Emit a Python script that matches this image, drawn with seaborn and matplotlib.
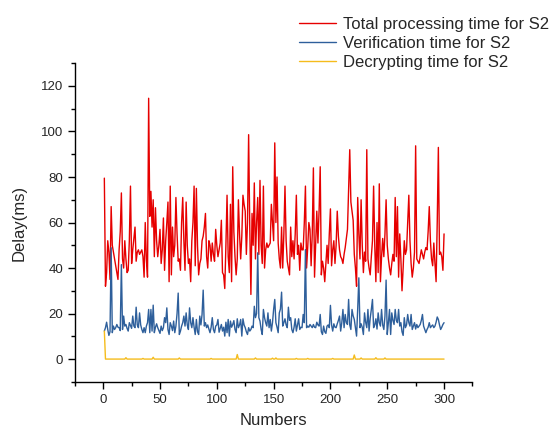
import seaborn as sns
import matplotlib.pyplot as plt
import pandas as pd
from matplotlib.ticker import MultipleLocator

# Delay values (ms), samples 1..300
total_time = [
    79.5, 32, 38, 52, 47, 35, 67, 50, 47, 44, 41, 38, 35, 48, 56, 73, 44, 40, 52, 44,
    38, 39, 52, 76, 42, 48, 53, 58, 43, 47, 48, 46, 47, 48, 45, 36, 60, 44, 36, 114.6,
    62.7, 73.7, 58, 70, 45, 66.5, 52, 45, 50, 57, 42, 48, 62, 39, 52, 60, 69, 34, 76, 37,
    58, 45, 50, 71, 55, 43, 44, 39, 60, 71, 52, 39, 69, 50, 42, 44, 34, 52, 60, 76,
    41, 75, 50, 37, 42, 44, 52, 54, 58, 64, 45, 40, 52, 50, 43, 51, 46, 43, 57, 50,
    45, 48, 51, 61, 38, 37, 31, 50, 72, 45, 38, 68, 34, 84.5, 56, 45, 37, 44, 70, 55,
    44, 54, 72, 68, 65, 46, 60, 98.6, 58, 28.4, 64, 50, 77.4, 44, 60, 71, 46, 78.5, 50, 42,
    76, 40, 48, 51, 49, 50, 51, 68, 60, 52, 95, 60, 80, 51, 44, 40, 58, 40, 55, 76,
    52, 43, 40, 37, 58, 45, 52, 44, 55, 72, 46, 50, 39, 51, 48, 48, 60, 76, 40, 49,
    60, 57, 41, 55, 84, 36, 50, 65, 51, 65, 84.5, 37, 43, 40, 34, 42, 50, 42, 55, 66,
    41, 48, 52, 42, 50, 65, 54, 48, 45, 44, 42, 46, 49, 53, 57, 75, 92, 69, 65, 61,
    46, 40, 32, 71, 55, 44, 70, 50, 38, 47, 43, 92, 44, 40, 37, 45, 52, 76, 50, 34,
    60, 38, 77, 34, 45, 53, 45, 55, 70, 50, 44, 40, 37, 42, 46, 43, 71, 45, 67, 36,
    55, 44, 30, 40, 52, 46, 48, 60, 72, 52, 42, 36, 40, 47, 93.7, 44, 43, 42, 45, 48,
    46, 44, 47, 49, 48, 56, 67, 52, 44, 41, 51, 42, 34, 60, 93, 46, 47, 45, 39, 55,
]

verify_time = [
    12.3, 13.8, 16.2, 13, 10.4, 12, 48.9, 11.6, 14.5, 13, 13.8, 15.2, 14, 13.8, 12.5, 41.5, 13, 18.9, 14.5, 15.2,
    13.5, 12.3, 16, 14.8, 13.5, 18.9, 14.5, 13.8, 22.8, 15, 13.8, 20.3, 15, 13, 11.6, 13.8, 11.6, 14.5, 16, 21.8,
    11.6, 21.8, 12.3, 23.7, 11.6, 14, 15.5, 13.8, 12.5, 11.3, 14.5, 12.5, 13.8, 18.2, 16, 22.5, 13, 10.8, 16, 14.5,
    12.5, 16.7, 11.6, 14.5, 20, 29, 10.8, 12.3, 14.5, 16, 18.9, 14.5, 20.3, 15, 13, 22.5, 16, 13.8, 18.2, 14,
    10.8, 17.4, 12, 10.8, 18.9, 15, 19.6, 30.3, 14.5, 16, 13.8, 15, 13.2, 11.6, 14, 18.2, 13, 11.6, 14.5, 15,
    17.4, 11.8, 13.5, 15.2, 12.3, 14, 10.1, 16.2, 11.6, 17.4, 10.1, 16.7, 14, 15.2, 16.9, 13, 11.6, 17.7, 13.8, 15,
    17.4, 10.1, 17.7, 15, 13.8, 12, 10.8, 13.8, 12.3, 13, 14.5, 13.8, 23.2, 18.2, 20, 46.7, 18.2, 16.7, 13, 10.8,
    21.8, 18.2, 16, 14.5, 20.3, 13.8, 17.4, 12.3, 16, 21.8, 26.2, 16, 14, 11.6, 20.3, 22, 29.4, 14.5, 16, 17.7,
    15, 13.8, 22.8, 17, 18.2, 13, 11.6, 14, 17.7, 12.3, 15, 17.7, 13, 14, 13.8, 19.6, 16, 48.1, 13.8, 14.5,
    14, 15.2, 14.5, 13.8, 15.2, 14, 13.8, 16.2, 15, 14.5, 19.6, 12, 10.8, 14.5, 12, 11.3, 14.5, 15, 13.8, 23.6,
    15, 12.3, 15.5, 14, 13.8, 15.5, 17, 18.9, 12.3, 16, 21.8, 13.8, 19.6, 16, 15.2, 26.2, 15, 13, 21.8, 19,
    17.4, 13.8, 10.1, 22, 35.7, 13.8, 15.5, 14, 10.8, 20.3, 16.2, 13.8, 21.8, 12.3, 18, 21.8, 26.2, 13.8, 15, 17.7,
    13.2, 20.3, 16, 14.5, 21.8, 15, 13, 18.9, 34.7, 10.8, 16, 21.8, 10.8, 20.3, 17, 15.2, 21.8, 17, 16, 21.8,
    14.5, 16, 12, 10.4, 18.2, 13.8, 15, 19.6, 16, 14.5, 19.6, 13, 14.5, 16, 13.2, 15.2, 13.8, 14.5, 15.2, 17,
    19.6, 14.5, 13, 11.6, 13, 14, 16, 13.8, 14.5, 15, 13.8, 14.5, 16.2, 18.5, 17.4, 15, 13, 14, 15.2, 16,
]

decrypt_time = [
    12.3, 0, 0, 0, 0, 0, 0, 0, 0, 0, 0, 0, 0, 0, 0, 0, 0, 0, 0, 0.6,
    0, 0, 0, 0, 0, 0, 0, 0, 0, 0, 0, 0, 0, 0, 0.3, 0, 0, 0, 0, 0,
    0, 0, 0, 0.8, 0, 0, 0, 0, 0, 0, 0, 0, 0, 0, 0, 0, 0, 0, 0, 0,
    0, 0, 0, 0, 0, 0, 0.5, 0, 0, 0, 0, 0, 0, 0, 0, 0, 0, 0, 0, 0,
    0, 0, 0, 0, 0, 0, 0, 0, 0, 0, 0, 0, 0, 0, 0.3, 0, 0, 0, 0, 0,
    0, 0, 0, 0, 0, 0, 0, 0, 0, 0, 0, 0, 0, 0, 0, 0, 0, 2.0, 0, 0,
    0, 0, 0, 0, 0, 0, 0, 0, 0, 0, 0, 0, 0, 0.5, 0, 0, 0, 0, 0, 0,
    0, 0, 0, 0, 0, 0, 0, 0, 0.4, 0, 0, 0.5, 0, 0, 0, 0, 0, 0, 0, 0,
    0, 0, 0, 0, 0, 0, 0, 0, 0, 0.3, 0, 0, 0, 0, 0, 0, 0, 0, 0, 0.3,
    0, 0, 0, 0, 0, 0, 0, 0, 0, 0, 0, 0, 0, 0, 0, 0, 0, 0, 0, 0,
    0, 0.3, 0, 0, 0, 0, 0, 0, 0, 0, 0, 0, 0, 0, 0, 0, 0, 0, 0, 0,
    1.8, 0, 0, 0, 0, 0, 0.5, 0, 0, 0, 0, 0, 0, 0, 0, 0, 0, 0, 0, 0.6,
    0, 0, 0, 0, 0, 0, 0, 0.5, 0, 0, 0, 0, 0, 0, 0, 0, 0, 0, 0, 0,
    0, 0, 0, 0, 0, 0, 0, 0, 0, 0, 0, 0, 0, 0, 0, 0, 0, 0, 0, 0,
    0, 0, 0, 0, 0, 0, 0, 0, 0, 0, 0, 0, 0, 0, 0, 0, 0, 0, 0, 0,
]

numbers = list(range(1, len(total_time) + 1))

series_names = ['Total processing time for S2', 'Verification time for S2', 'Decrypting time for S2']
series_colors = ['#e60000', '#2e5f9b', '#f5bc1c']

df = pd.DataFrame({
    'Numbers': numbers * 3,
    'Delay': total_time + verify_time + decrypt_time,
    'Series': [series_names[0]] * 300 + [series_names[1]] * 300 + [series_names[2]] * 300,
})

sns.set_style('ticks')
plt.rcParams['font.family'] = ['Liberation Sans', 'DejaVu Sans']

fig = plt.figure(figsize=(5.5, 4.3), dpi=100)
ax = fig.add_axes([0.136, 0.112, 0.723, 0.741])

sns.lineplot(data=df, x='Numbers', y='Delay', hue='Series', hue_order=series_names,
             palette=series_colors, linewidth=1.0, ax=ax)

ax.set_xlim(-25, 325)
ax.set_ylim(-10, 130)
ax.xaxis.set_major_locator(MultipleLocator(50))
ax.xaxis.set_minor_locator(MultipleLocator(25))
ax.yaxis.set_major_locator(MultipleLocator(20))
ax.yaxis.set_minor_locator(MultipleLocator(10))
ax.tick_params(which='major', direction='out', length=5, width=1, labelsize=9.5, color='black')
ax.tick_params(which='minor', direction='out', length=3, width=1, color='black')
sns.despine(ax=ax)
for s in ['left', 'bottom']:
    ax.spines[s].set_color('black')
    ax.spines[s].set_linewidth(1)

ax.set_xlabel('Numbers', fontsize=12, labelpad=5)
ax.set_ylabel('Delay(ms)', fontsize=12, labelpad=10)

ax.legend_.remove()
handles, labels = ax.get_legend_handles_labels()
fig.legend(handles, labels, loc='upper left', bbox_to_anchor=(0.52, 0.992),
           frameon=False, fontsize=12, handlelength=2.2, handletextpad=0.4,
           labelspacing=0.25, borderpad=0.3)

fig.savefig('out.png', dpi=100)
